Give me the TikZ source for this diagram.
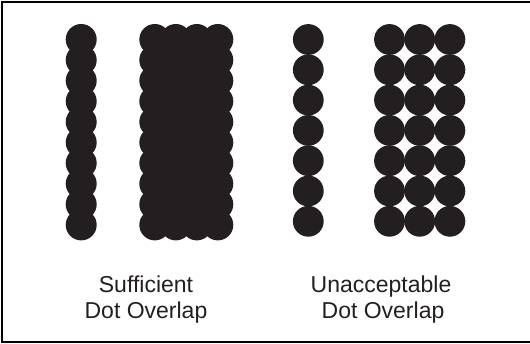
\documentclass[tikz,border=0pt]{standalone}
\usepackage{fontspec}
\setmainfont{Liberation Sans}
\definecolor{dotblack}{HTML}{231F20}
\begin{document}
\begin{tikzpicture}[x=1pt,y=-1pt,
  dot/.style={fill=dotblack},
  lbl/.style={anchor=base,inner sep=0pt,font=\fontsize{23}{26}\selectfont,text=dotblack},
  frame/.style={line width=2pt,draw=black}]
\useasboundingbox (0,0) rectangle (530,344);
% frame (right edge cropped)
\draw[frame] (531,2) -- (2,2) -- (2,342.4) -- (531,342.4);
% group 1: single column, overlapping
\foreach \i in {0,...,9}
  \fill[dot] (81.2,39.5+20.6*\i) circle (15.5);
% group 2: four columns, overlapping
\foreach \c in {0,...,3}
  \foreach \i in {0,...,9}
    \fill[dot] (154.8+21*\c,39.5+20.6*\i) circle (15.5);
% group 3: single column, touching
\foreach \i in {0,...,6}
  \fill[dot] (308.3,39.5+30.3*\i) circle (15.4);
% group 4: three columns, touching
\foreach \c in {0,...,2}
  \foreach \i in {0,...,6}
    \fill[dot] (389.5+30.2*\c,39.5+30.3*\i) circle (15.4);
% labels
\node[lbl] (s1) at (146,293) {Sufficient};
\node[lbl] (s2) at (146,319) {Dot Overlap};
\node[lbl] (u1) at (381,293) {Unacceptable};
\node[lbl] (u2) at (383,319) {Dot Overlap};
\end{tikzpicture}
\end{document}
